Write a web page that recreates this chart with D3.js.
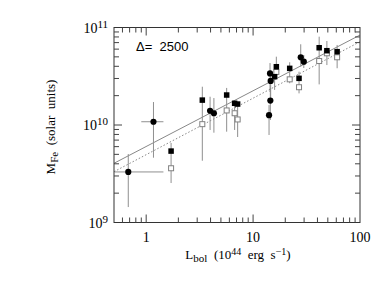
<!DOCTYPE html>
<html><head><meta charset="utf-8">
<script src="https://cdn.jsdelivr.net/npm/d3@7"></script>
<style>body{margin:0;background:#fff}svg{display:block}</style>
</head><body>
<script>
// ---- data ----
// filled circles: [L, M, Mlo, Mhi, Llo, Lhi]
const circles = [
  [0.68, 3.3e9, 1.44e9, 5.04e9, 0.505, 1.45],
  [1.17, 1.08e10, 4.62e9, 1.72e10, 0.90, 1.45],
  [3.96, 1.40e10, 8.89e9, 1.95e10, null, null],
  [4.3, 1.32e10, 8.34e9, 1.89e10, null, null],
  [14.4, 3.38e10, 2.18e10, 4.32e10, null, null],
  [14.6, 2.83e10, 1.80e10, 3.66e10, null, null],
  [14.5, 1.78e10, 1.125e10, 2.40e10, null, null],
  [14.1, 1.26e10, 7.9e9, 1.60e10, null, null],
  [27.9, 4.95e10, 3.96e10, 6.73e10, null, null],
  [29.8, 4.46e10, 3.84e10, 5.22e10, null, null]
];
// filled squares: [L, M, Mlo, Mhi]
const squares = [
  [1.71, 5.4e9, 2.54e9, 6.54e9],
  [3.35, 1.8e10, 4.30e9, 2.47e10],
  [5.66, 2.03e10, 8.54e9, 2.40e10],
  [6.72, 1.67e10, 8.89e9, 1.80e10],
  [7.17, 1.64e10, 7.53e9, 1.68e10],
  [16.5, 3.96e10, 3.03e10, 5.02e10],
  [15.9, 3.13e10, 2.29e10, 4.12e10],
  [22.0, 3.81e10, 2.68e10, 4.40e10],
  [26.9, 3.01e10, 2.11e10, 3.52e10],
  [41.5, 6.2e10, 2.61e10, 8.05e10],
  [49.0, 5.78e10, 4.12e10, 7.27e10],
  [61.1, 5.65e10, 3.82e10, 6.62e10]
];
// open squares: [L, M]
const openSquares = [
  [1.71, 3.6e9], [3.35, 1.02e10], [5.66, 1.41e10], [6.72, 1.32e10], [7.17, 1.14e10],
  [16.5, 3.5e10], [22.0, 2.94e10], [26.9, 2.44e10], [41.5, 4.53e10], [49.0, 5.44e10], [61.1, 4.95e10]
];
const solidFit = [[0.5, 4.05e9], [100, 8.37e10]];
const dottedFit = [[0.5, 3.32e9], [100, 7.15e10]];
const xMajor = [1, 10, 100];
const xLabels = ["1", "10", "100"];
const yMajor = [1e9, 1e10, 1e11];
const yExp = ["9", "10", "11"];
const annotation = "\u0394=  2500";

// ---- drawing ----
const W = 376, H = 291;
const L = 114, R = 360, T = 27.5, B = 222.5;
const svg = d3.select("body").append("svg").attr("width", W).attr("height", H);
const x = d3.scaleLog().domain([0.5, 100]).range([L, R]);
const y = d3.scaleLog().domain([1e9, 1e11]).range([B, T]);
const gray = "#8f8f8f", lineGray = "#888";

// fit lines
const line = d3.line().x(d => x(d[0])).y(d => y(d[1]));
svg.append("path").datum(solidFit).attr("d", line).attr("fill", "none")
  .attr("stroke", lineGray).attr("stroke-width", 1);
svg.append("path").datum(dottedFit).attr("d", line).attr("fill", "none")
  .attr("stroke", lineGray).attr("stroke-width", 1).attr("stroke-dasharray", "1.5,2");

// error bars
const eb = svg.append("g").attr("stroke", gray).attr("stroke-width", 1);
circles.forEach(d => {
  eb.append("line").attr("x1", x(d[0])).attr("x2", x(d[0])).attr("y1", y(d[2])).attr("y2", y(d[3]));
  if (d[4] !== null) eb.append("line").attr("x1", x(d[4])).attr("x2", x(d[5])).attr("y1", y(d[1])).attr("y2", y(d[1]));
});
squares.forEach(d => {
  eb.append("line").attr("x1", x(d[0])).attr("x2", x(d[0])).attr("y1", y(d[2])).attr("y2", y(d[3]));
});

// open squares
const os = 5;
svg.append("g").selectAll("rect").data(openSquares).join("rect")
  .attr("x", d => x(d[0]) - os / 2).attr("y", d => y(d[1]) - os / 2)
  .attr("width", os).attr("height", os).attr("fill", "#fff").attr("stroke", "#808080").attr("stroke-width", 1);

// filled squares
const fs = 5.5;
svg.append("g").selectAll("rect").data(squares).join("rect")
  .attr("x", d => x(d[0]) - fs / 2).attr("y", d => y(d[1]) - fs / 2)
  .attr("width", fs).attr("height", fs).attr("fill", "#000");

// filled circles
svg.append("g").selectAll("circle").data(circles).join("circle")
  .attr("cx", d => x(d[0])).attr("cy", d => y(d[1])).attr("r", 3.1).attr("fill", "#000");

// frame
svg.append("rect").attr("x", L).attr("y", T).attr("width", R - L).attr("height", B - T)
  .attr("fill", "none").attr("stroke", "#333").attr("stroke-width", 1);

// ticks
const tg = svg.append("g").attr("stroke", "#444").attr("stroke-width", 1);
const xTicks = x.ticks();
xTicks.forEach(v => {
  const major = xMajor.includes(v);
  const len = major ? 8 : 5;
  const px = x(v);
  if (px <= L + 0.5 || px >= R - 0.5) return;
  tg.append("line").attr("x1", px).attr("x2", px).attr("y1", B).attr("y2", B - len);
  tg.append("line").attr("x1", px).attr("x2", px).attr("y1", T).attr("y2", T + len);
});
const yTicks = y.ticks();
yTicks.forEach(v => {
  const major = yMajor.some(m => Math.abs(m - v) / m < 1e-6);
  const len = major ? 8 : 5;
  const py = y(v);
  if (py <= T + 0.5 || py >= B - 0.5) return;
  tg.append("line").attr("x1", L).attr("x2", L + len).attr("y1", py).attr("y2", py);
  tg.append("line").attr("x1", R).attr("x2", R - len).attr("y1", py).attr("y2", py);
});

// tick labels
const font = "'Liberation Serif', 'DejaVu Serif', serif";
xMajor.forEach((v, i) => {
  svg.append("text").attr("x", x(v)).attr("y", B + 19).attr("text-anchor", "middle")
    .attr("font-family", font).attr("font-size", 14).attr("fill", "#000").text(xLabels[i]);
});
yMajor.forEach((v, i) => {
  const t = svg.append("text").attr("x", 108).attr("y", y(v) + 5).attr("text-anchor", "end")
    .attr("font-family", font).attr("font-size", 14).attr("fill", "#000");
  t.append("tspan").text("10");
  t.append("tspan").attr("dy", -5).attr("font-size", 11).text(yExp[i]);
});

// axis titles
const xt = svg.append("text").attr("x", 238).attr("y", 259).attr("text-anchor", "middle")
  .attr("font-family", font).attr("font-size", 13).attr("fill", "#000").attr("xml:space", "preserve");
xt.append("tspan").text("L");
xt.append("tspan").attr("dy", 3).attr("font-size", 11).text("bol");
xt.append("tspan").attr("dy", -3).text("  (10");
xt.append("tspan").attr("dy", -4).attr("font-size", 10).text("44");
xt.append("tspan").attr("dy", 4).text("  erg  s");
xt.append("tspan").attr("dy", -4).attr("font-size", 10).text("\u22121");
xt.append("tspan").attr("dy", 4).text(")");

const yt = svg.append("text").attr("transform", "translate(55,127) rotate(-90)").attr("text-anchor", "middle")
  .attr("font-family", font).attr("font-size", 13).attr("fill", "#000").attr("xml:space", "preserve");
yt.append("tspan").text("M");
yt.append("tspan").attr("dy", 3).attr("font-size", 11).text("Fe");
yt.append("tspan").attr("dy", -3).text("  (solar  units)");

// annotation
svg.append("text").attr("x", 136).attr("y", 51).attr("font-family", "'Liberation Sans', Arial, sans-serif")
  .attr("font-size", 13).attr("fill", "#000").attr("xml:space", "preserve").text(annotation);
</script>
</body></html>
